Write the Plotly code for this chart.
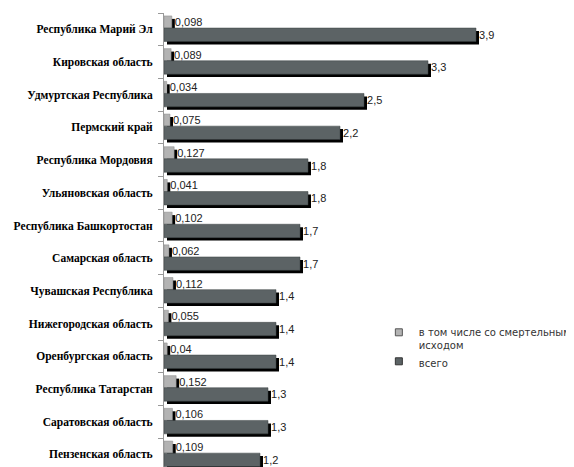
import plotly.graph_objects as go

categories = ["Республика Марий Эл", "Кировская область", "Удмуртская Республика",
              "Пермский край", "Республика Мордовия", "Ульяновская область",
              "Республика Башкортостан", "Самарская область", "Чувашская Республика",
              "Нижегородская область", "Оренбургская область", "Республика Татарстан",
              "Саратовская область", "Пензенская область"]
fatal = [0.098, 0.089, 0.034, 0.075, 0.127, 0.041, 0.102, 0.062, 0.112, 0.055,
         0.04, 0.152, 0.106, 0.109]
total = [3.9, 3.3, 2.5, 2.2, 1.8, 1.8, 1.7, 1.7, 1.4, 1.4, 1.4, 1.3, 1.3, 1.2]

name_fatal = "в том числе со смертельным<br>исходом"
name_total = "всего"

def fmt(v):
    return ("%g" % v).replace(".", ",")

SHIFT_X = 0.0375   # 3px shadow offset
SHIFT_Y = 0.09
LIGHT = "#b3b3b3"
DARK = "#5c6365"

fig = go.Figure()
txtfont = dict(family="Liberation Sans", size=11, color="#222")

fig.add_bar(y=categories, x=fatal, base=SHIFT_X, orientation="h", width=0.37,
            offset=-0.41 + SHIFT_Y, marker=dict(color="black", line=dict(width=0)),
            showlegend=False, hoverinfo="skip")
fig.add_bar(y=categories, x=fatal, orientation="h", width=0.37, offset=-0.41,
            marker=dict(color=LIGHT, line=dict(width=0.5, color="#8a8a8a")),
            text=[fmt(v) for v in fatal], textposition="outside", textfont=txtfont,
            constraintext="none", cliponaxis=False,
            showlegend=False, name=name_fatal)
fig.add_bar(y=categories, x=total, base=SHIFT_X, orientation="h", width=0.41,
            offset=-0.04 + SHIFT_Y, marker=dict(color="black", line=dict(width=0)),
            showlegend=False, hoverinfo="skip")
fig.add_bar(y=categories, x=total, orientation="h", width=0.41, offset=-0.04,
            marker=dict(color=DARK, line=dict(width=0.5, color="#3a4042")),
            text=[fmt(v) for v in total], textposition="outside", textfont=txtfont,
            constraintext="none", cliponaxis=False,
            showlegend=False, name=name_total)

fig.add_scatter(x=[None], y=[None], mode="markers", name=name_fatal,
                marker=dict(symbol="square", size=7, color=LIGHT,
                            line=dict(width=1, color="#555")))
fig.add_scatter(x=[None], y=[None], mode="markers", name=name_total,
                marker=dict(symbol="square", size=7, color=DARK,
                            line=dict(width=1, color="#333")))

# the page body adds an 8px offset; margins compensate for it
ML, MT = 156, 5
plot_h = 467 - MT
plot_w = 574 - ML
rng_bottom = -0.5 + plot_h / 32.7

fig.update_layout(
    width=574, height=467, autosize=False,
    margin=dict(l=ML, r=0, t=MT, b=0, pad=0, autoexpand=False),
    plot_bgcolor="white", paper_bgcolor="white",
    barmode="overlay",
    showlegend=True,
    legend=dict(x=0.514, y=0.337, xanchor="left", yanchor="top",
                font=dict(family="DejaVu Sans", size=10, color="#333"),
                bgcolor="rgba(0,0,0,0)", valign="top", tracegroupgap=0,
                itemwidth=30),
    xaxis=dict(range=[0, plot_w / 80], visible=False, showgrid=False, zeroline=False,
               automargin=False),
    yaxis=dict(range=[rng_bottom, -0.5], type="category", showgrid=False,
               automargin=False,
               showline=True, linecolor="#999", linewidth=1,
               ticks="outside", tickson="boundaries", ticklen=5, tickcolor="#999",
               ticklabelstandoff=8,
               tickfont=dict(family="Liberation Serif", size=11.5, color="black",
                             weight="bold")),
)

fig.write_html("out.html")
